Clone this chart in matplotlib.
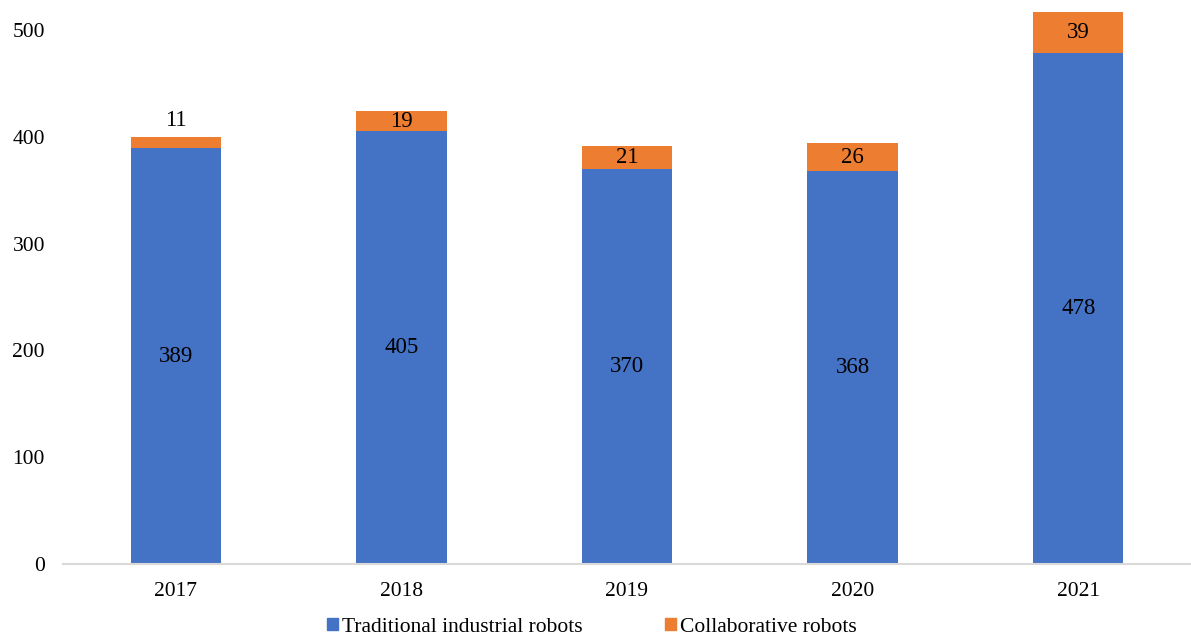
import matplotlib.pyplot as plt
import numpy as np
from matplotlib.patches import Patch

years = ['2017', '2018', '2019', '2020', '2021']
traditional = [389, 405, 370, 368, 478]
collaborative = [11, 19, 21, 26, 39]

blue = '#4472C4'
orange = '#ED7D31'

plt.rcParams['font.family'] = ['Liberation Serif', 'DejaVu Serif']
plt.rcParams['font.size'] = 15.5

fig = plt.figure(figsize=(11.91, 6.38), dpi=100)
ax = fig.add_axes([63 / 1191, 74 / 638, 1 - 63 / 1191, 1 - 74 / 638])

x = np.arange(len(years))
width = 0.4
b1 = ax.bar(x, traditional, width, color=blue, zorder=2)
b2 = ax.bar(x, collaborative, width, bottom=traditional, color=orange, zorder=2, clip_on=False)

# value labels: blue in the middle of the segment, orange inside unless too thin
for i in range(len(years)):
    ax.text(x[i], traditional[i] / 2, str(traditional[i]), ha='center', va='center',
            color='black', fontsize=16.5)
    top = traditional[i] + collaborative[i]
    if collaborative[i] < 15:
        ax.text(x[i], top + 15, str(collaborative[i]), ha='center', va='center',
                color='black', fontsize=16.5)
    else:
        ax.text(x[i], traditional[i] + collaborative[i] / 2, str(collaborative[i]),
                ha='center', va='center', color='black', fontsize=16.5)

ax.set_xlim(-0.5, len(years) - 0.5)
ax.set_ylim(0, 528)
ax.set_yticks([0, 100, 200, 300, 400, 500])
ax.set_xticks(x)
ax.set_xticklabels(years)
ax.tick_params(axis='both', length=0, pad=13, labelsize=15.5)

for s in ['top', 'right', 'left']:
    ax.spines[s].set_visible(False)
ax.spines['bottom'].set_color('#D9D9D9')
ax.spines['bottom'].set_linewidth(1.5)

handles = [Patch(color=blue, label='Traditional industrial robots'),
           Patch(color=orange, label='Collaborative robots')]
fig.legend(handles=handles, loc='center', bbox_to_anchor=(592 / 1191, 1 - 627 / 638),
           ncol=2, frameon=False, fontsize=15.5, handlelength=0.52, handleheight=0.52,
           handletextpad=0.2, columnspacing=3.8)

fig.savefig('out.png', dpi=100)
